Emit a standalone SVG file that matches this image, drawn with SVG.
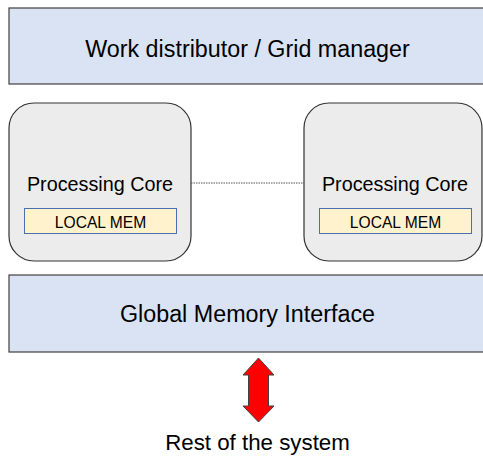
<svg xmlns="http://www.w3.org/2000/svg" width="483" height="456" viewBox="0 0 483 456">
<style>
text{font-family:"Liberation Sans",Arial,sans-serif;fill:#000;text-anchor:middle}
.band{fill:#dae3f3;stroke:#404040;stroke-width:1.2}
.core{fill:#ececec;stroke:#333;stroke-width:1.2}
.mem{fill:#fff2cc;stroke:#4a6fae;stroke-width:1}
.big{font-size:23.3px}
.mid{font-size:19.8px}
.small{font-size:15.6px}
</style>
<rect x="0" y="0" width="483" height="456" fill="#fff"/>
<g id="work-distributor">
<rect class="band" x="9" y="8" width="480" height="76"/>
<text class="big" x="247.5" y="57">Work distributor / Grid manager</text>
</g>
<g id="core-left">
<rect class="core" x="9" y="103" width="182" height="158" rx="25" ry="25"/>
<text class="mid" x="100" y="191">Processing Core</text>
<rect class="mem" x="24.5" y="208.5" width="152" height="25"/>
<text class="small" x="100.5" y="227.5">LOCAL MEM</text>
</g>
<g id="core-right">
<rect class="core" x="304" y="103" width="178" height="158" rx="25" ry="25"/>
<text class="mid" x="395" y="191">Processing Core</text>
<rect class="mem" x="319.5" y="208.5" width="152" height="25"/>
<text class="small" x="395.5" y="227.5">LOCAL MEM</text>
</g>
<g id="global-memory">
<rect class="band" x="9" y="275" width="480" height="77"/>
<text class="big" x="247.5" y="322">Global Memory Interface</text>
</g>
<g id="connectors">
<line x1="191" y1="183" x2="304" y2="183" stroke="#555" stroke-width="1" stroke-dasharray="1.5,1"/>
<polygon points="258.5,358 274,375 268.5,375 268.5,406 274,406 258.5,422 243,406 248.5,406 248.5,375 243,375" fill="#ff0000" stroke="#404040" stroke-width="1"/>
</g>
<g id="rest">
<text class="big" x="257.5" y="450" style="font-size:22.3px">Rest of the system</text>
</g>
</svg>
